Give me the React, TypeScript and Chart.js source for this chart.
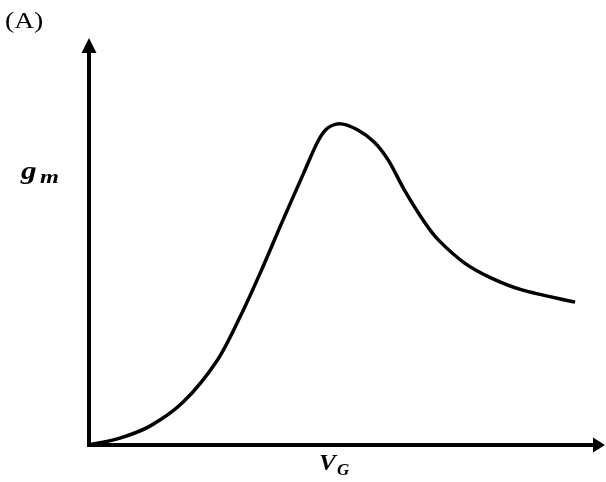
import React, { useEffect, useRef } from "react";
import { Chart, registerables } from "chart.js";

Chart.register(...registerables);

// V_G (arbitrary units) and g_m (arbitrary units)
const vgValues = [0, 0.6, 1.19, 1.83, 2.49, 2.94, 3.33, 3.75, 4.16, 4.44, 4.63, 4.88, 5.21, 5.53, 5.8, 6.11, 6.5, 6.77, 7.28, 7.8, 8.39, 9.42];
const gmValues = [0, 0.17, 0.47, 1.06, 2.09, 3.18, 4.26, 5.5, 6.68, 7.47, 7.79, 7.89, 7.74, 7.44, 7.0, 6.27, 5.48, 5.04, 4.47, 4.1, 3.81, 3.51];
const xAxisLabel = "V";
const xAxisSub = "G";
const yAxisLabel = "g";
const yAxisSub = "m";
const panelLabel = "(A)";

const SERIF = "'Liberation Serif', 'DejaVu Serif', serif";

function drawText(ctx: any, text: string, x: number, y: number, font: string, sx: number) {
  ctx.save();
  ctx.translate(x, y);
  ctx.scale(sx, 1);
  ctx.font = font;
  ctx.fillText(text, 0, 0);
  ctx.restore();
}

const axesPlugin = {
  id: "arrowAxes",
  afterDraw(chart: any) {
    const { ctx, chartArea } = chart;
    const { left, right, top, bottom } = chartArea;
    ctx.save();
    ctx.strokeStyle = "#000";
    ctx.fillStyle = "#000";
    ctx.lineWidth = 4;
    ctx.lineCap = "butt";
    // y axis
    ctx.beginPath();
    ctx.moveTo(left, bottom + 2);
    ctx.lineTo(left, top + 12);
    ctx.stroke();
    ctx.beginPath();
    ctx.moveTo(left, top);
    ctx.lineTo(left - 7.5, top + 15);
    ctx.lineTo(left + 7.5, top + 15);
    ctx.closePath();
    ctx.fill();
    // x axis
    ctx.beginPath();
    ctx.moveTo(left - 2, bottom);
    ctx.lineTo(right - 12, bottom);
    ctx.stroke();
    ctx.beginPath();
    ctx.moveTo(right, bottom);
    ctx.lineTo(right - 12, bottom - 7.5);
    ctx.lineTo(right - 12, bottom + 7.5);
    ctx.closePath();
    ctx.fill();

    // labels
    ctx.textBaseline = "alphabetic";
    ctx.textAlign = "left";
    drawText(ctx, panelLabel, 5, 28, `24px ${SERIF}`, 1.15);
    drawText(ctx, yAxisLabel, 21, 179, `bold italic 25px ${SERIF}`, 1.25);
    drawText(ctx, yAxisSub, 40, 183, `bold italic 18px ${SERIF}`, 1.35);
    drawText(ctx, xAxisLabel, 319, 470, `bold italic 23px ${SERIF}`, 1.1);
    drawText(ctx, xAxisSub, 337, 475, `bold italic 17px ${SERIF}`, 1.0);
    ctx.restore();
  },
};

export default function App() {
  const ref = useRef<HTMLCanvasElement | null>(null);
  useEffect(() => {
    if (!ref.current) return;
    const chart = new Chart(ref.current, {
      type: "line",
      data: {
        datasets: [
          {
            data: vgValues.map((x, i) => ({ x, y: gmValues[i] })),
            borderColor: "#000",
            borderWidth: 3.5,
            pointRadius: 0,
            tension: 0.3,
            fill: false,
          },
        ],
      },
      options: {
        responsive: false,
        animation: false,
        layout: { padding: { left: 89, top: 38, right: 1, bottom: 37 } },
        plugins: { legend: { display: false }, tooltip: { enabled: false } },
        scales: {
          x: { type: "linear", min: 0, max: 10, display: false },
          y: { type: "linear", min: 0, max: 10, display: false },
        },
      },
      plugins: [axesPlugin],
    } as any);
    return () => chart.destroy();
  }, []);
  return (
    <div style={{ position: "fixed", left: 0, top: 0, width: 606, height: 482, background: "#fff" }}>
      <canvas ref={ref} width={606} height={482} />
    </div>
  );
}
